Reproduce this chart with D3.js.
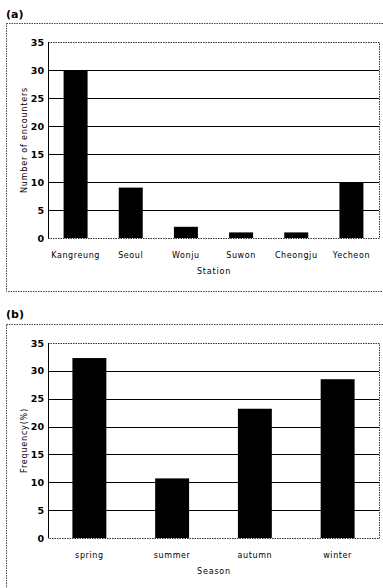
<!DOCTYPE html>
<html>
<head>
<meta charset="utf-8">
<script src="https://cdn.jsdelivr.net/npm/d3@7"></script>
<style>
  body { margin: 0; background: #fff; }
  svg text { font-family: "DejaVu Sans", sans-serif; fill: #000; }
  .tick-label { font-size: 9.5px; font-weight: bold; }
  .cat-label { font-size: 8px; letter-spacing: 0.6px; }
  .axis-title { font-size: 8px; letter-spacing: 0.8px; }
  .panel-label { font-size: 11px; font-weight: bold; }
</style>
</head>
<body>
<div id="chart"></div>
<script>
// panel (a): encounters per station
var stations = ['Kangreung', 'Seoul', 'Wonju', 'Suwon', 'Cheongju', 'Yecheon'];
var encounters = [30, 9, 2, 1, 1, 10];

// panel (b): frequency per season
var seasons = ['spring', 'summer', 'autumn', 'winter'];
var frequency = [32.3, 10.7, 23.2, 28.5];

var yTicks = [0, 5, 10, 15, 20, 25, 30, 35];

var svg = d3.select('#chart')
    .append('svg')
    .attr('width', 383)
    .attr('height', 588);

var drawPanel = function (opt) {
    var g = svg.append('g');

    g.append('text')
        .attr('class', 'panel-label')
        .attr('x', 6)
        .attr('y', opt.labelY)
        .text(opt.label);

    // outer frame
    g.append('rect')
        .attr('x', 6.5)
        .attr('y', opt.boxTop + 0.5)
        .attr('width', 400)
        .attr('height', opt.boxBottom - opt.boxTop)
        .attr('fill', 'none')
        .attr('stroke', '#444')
        .attr('stroke-dasharray', '1.5,1');

    var x = d3.scaleBand()
        .domain(opt.cats)
        .range([48, 379])
        .paddingInner(opt.pad)
        .paddingOuter(opt.pad / 2);

    var y = d3.scaleLinear()
        .domain([0, 35])
        .range([opt.zeroY, opt.topY]);

    // grid lines
    g.selectAll('.grid')
        .data(yTicks.filter(function (d) { return d > 0 && d < 35; }))
        .enter()
        .append('line')
        .attr('x1', 48)
        .attr('x2', 379)
        .attr('y1', function (d) { return Math.round(y(d)) + 0.5; })
        .attr('y2', function (d) { return Math.round(y(d)) + 0.5; })
        .attr('stroke', '#000')
        .attr('stroke-width', 1.2);

    // plot frame: dotted top/right/bottom
    g.append('path')
        .attr('d', 'M48,' + (Math.round(y(35)) + 0.5) + 'H379.5V' + (Math.round(y(0)) + 0.5) + 'H48')
        .attr('fill', 'none')
        .attr('stroke', '#333')
        .attr('stroke-dasharray', '1.5,1');

    g.append('line')
        .attr('x1', 48.5)
        .attr('x2', 48.5)
        .attr('y1', y(35))
        .attr('y2', y(0))
        .attr('stroke', '#000');

    // bars
    g.selectAll('.bar')
        .data(opt.values)
        .enter()
        .append('rect')
        .attr('x', function (d, i) { return x(opt.cats[i]); })
        .attr('width', x.bandwidth())
        .attr('y', function (d) { return y(d); })
        .attr('height', function (d) { return y(0) - y(d); })
        .attr('fill', '#000');

    // y tick labels
    g.selectAll('.tick-label')
        .data(yTicks)
        .enter()
        .append('text')
        .attr('class', 'tick-label')
        .attr('x', 44)
        .attr('y', function (d) { return y(d) + 3.5; })
        .attr('text-anchor', 'end')
        .text(function (d) { return d; });

    // category labels
    g.selectAll('.cat-label')
        .data(opt.cats)
        .enter()
        .append('text')
        .attr('class', 'cat-label')
        .attr('x', function (d) { return x(d) + x.bandwidth() / 2; })
        .attr('y', opt.zeroY + 20)
        .attr('text-anchor', 'middle')
        .text(function (d) { return d; });

    g.append('text')
        .attr('class', 'axis-title')
        .attr('x', 214)
        .attr('y', opt.zeroY + 36)
        .attr('text-anchor', 'middle')
        .text(opt.xTitle);

    g.append('text')
        .attr('class', 'axis-title')
        .attr('transform', 'translate(27,' + ((opt.zeroY + opt.topY) / 2) + ') rotate(-90)')
        .attr('text-anchor', 'middle')
        .text(opt.yTitle);
};

drawPanel({
    label: '(a)', labelY: 18, boxTop: 23, boxBottom: 291,
    topY: 42, zeroY: 238, pad: 0.565,
    cats: stations, values: encounters,
    xTitle: 'Station', yTitle: 'Number of encounters'
});

drawPanel({
    label: '(b)', labelY: 318, boxTop: 324, boxBottom: 600,
    topY: 343, zeroY: 538, pad: 0.59,
    cats: seasons, values: frequency,
    xTitle: 'Season', yTitle: 'Frequency(%)'
});
</script>
</body>
</html>
